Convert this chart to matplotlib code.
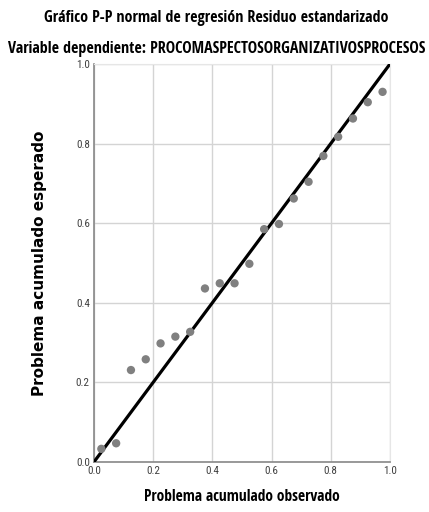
import numpy as np
import matplotlib.pyplot as plt

# Observed vs expected cumulative probabilities
observado = [0.025, 0.075, 0.125, 0.175, 0.225, 0.275, 0.325, 0.375, 0.425, 0.475,
             0.525, 0.575, 0.625, 0.675, 0.725, 0.775, 0.825, 0.875, 0.925, 0.975]
esperado = [0.033, 0.047, 0.231, 0.258, 0.298, 0.315, 0.327, 0.436, 0.449, 0.449,
            0.498, 0.585, 0.598, 0.662, 0.704, 0.769, 0.817, 0.863, 0.904, 0.930]

ticks = [0.0, 0.2, 0.4, 0.6, 0.8, 1.0]
tick_labels = ['0.0', '0.2', '0.4', '0.6', '0.8', '1.0']

narrow = ['Open Sans Condensed', 'Roboto Condensed', 'Archivo Narrow', 'Open Sans']
narrow_light = ['Roboto Condensed', 'Archivo Narrow', 'Open Sans']

fig = plt.figure(figsize=(4.29, 5.12), dpi=100)
ax = fig.add_axes([0.219, 0.0977, 0.690, 0.7773])

ax.plot([0, 1], [0, 1], color='black', linewidth=2.3, zorder=3)
ax.scatter(observado, esperado, s=36, color='#808080', edgecolors='none', zorder=4)

ax.set_xlim(0, 1)
ax.set_ylim(0, 1)
ax.set_xticks(ticks)
ax.set_yticks(ticks)
ax.set_xticklabels(tick_labels, family=narrow_light, fontweight='normal', fontsize=8, color='#404040')
ax.set_yticklabels(tick_labels, family=narrow_light, fontweight='normal', fontsize=8, color='#404040')
ax.tick_params(length=0, pad=3)
ax.grid(True, color='#d4d4d4', linewidth=1)
ax.set_axisbelow(True)

for side in ['top', 'right']:
    ax.spines[side].set_color('#e6e6e6')
for side in ['left', 'bottom']:
    ax.spines[side].set_color('#888888')
    ax.spines[side].set_linewidth(1.2)

fig.text(0.505, 0.965, 'Gráfico P-P normal de regresión Residuo estandarizado',
         ha='center', va='center', fontsize=11.5, fontweight='bold', family=narrow)
fig.text(0.505, 0.904, 'Variable dependiente: PROCOMASPECTOSORGANIZATIVOSPROCESOS',
         ha='center', va='center', fontsize=11.5, fontweight='bold', family=narrow)
fig.text(0.564, 0.029, 'Problema acumulado observado',
         ha='center', va='center', fontsize=11.2, fontweight='bold', family=narrow)
fig.text(0.093, 0.485, 'Problema acumulado esperado', rotation=90,
         ha='center', va='center', fontsize=11, fontweight='bold', family='DejaVu Sans')

fig.savefig('out.png', dpi=100)
